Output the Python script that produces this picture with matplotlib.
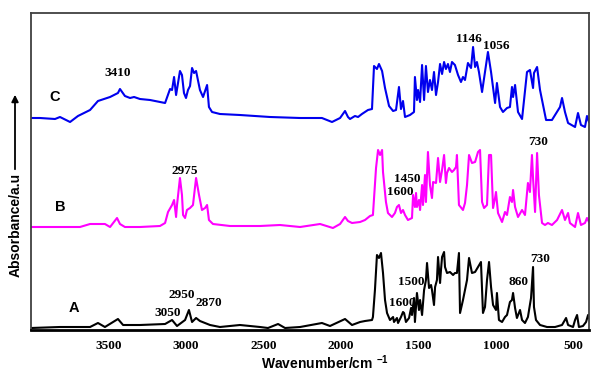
import numpy as np
import matplotlib
matplotlib.use("Agg")
import matplotlib.pyplot as plt

plt.rcParams['mathtext.fontset'] = 'custom'
plt.rcParams['mathtext.rm'] = 'Liberation Sans'
plt.rcParams['mathtext.bf'] = 'Liberation Sans:bold'

# spectrum A (black)
wn_a = [4000, 3813, 3619, 3568, 3523, 3439, 3406, 3297, 3135, 3090, 3058, 3006, 2981, 2961,
        2935, 2910, 2845, 2781, 2652, 2587, 2523, 2471, 2406, 2361, 2264, 2123, 2071, 1974,
        1929, 1877, 1845, 1800, 1794, 1781, 1768, 1755, 1742, 1729, 1716, 1703, 1684, 1664,
        1658, 1639, 1632, 1613, 1600, 1593, 1581, 1561, 1548, 1542, 1529, 1523, 1510, 1497,
        1490, 1477, 1464, 1452, 1445, 1432, 1419, 1413, 1400, 1393, 1381, 1374, 1361, 1355,
        1348, 1335, 1329, 1316, 1297, 1277, 1265, 1252, 1239, 1232, 1213, 1187, 1174, 1155,
        1135, 1116, 1097, 1084, 1071, 1058, 1045, 1032, 1019, 1000, 994, 981, 961, 942, 929,
        910, 897, 890, 877, 865, 845, 832, 813, 794, 774, 761, 755, 742, 716, 671, 619, 574,
        548, 535, 503, 490, 477, 465, 439, 419, 406, 400]
abs_a = [0, 1, 1, 5, 1, 9, 3, 3, 4, 8, 2, 8, 18, 6,
         10, 7, 3, 1, 3, 2, 1, 0, 4, 0, 1, 5, 2, 9,
         3, 6, 7, 8, 11, 38, 73, 70, 75, 55, 28, 15, 8, 11,
         6, 10, 5, 11, 16, 15, 6, 10, 20, 13, 30, 6, 35, 18,
         28, 13, 38, 48, 65, 40, 43, 38, 23, 41, 48, 71, 45, 58,
         71, 76, 61, 55, 56, 53, 55, 55, 75, 15, 28, 48, 70, 55,
         56, 61, 66, 15, 21, 48, 66, 41, 23, 18, 35, 8, 6, 11, 13,
         26, 28, 35, 20, 10, 18, 8, 5, 11, 30, 61, 21, 8, 3, 1, 1, 3,
         10, 3, 1, 8, 13, 1, 2, 6, 13, 10]

# spectrum B (magenta)
wn_b = [4000, 3813, 3684, 3619, 3523, 3490, 3445, 3426, 3394, 3297, 3168, 3135, 3116, 3090,
        3077, 3064, 3058, 3039, 3026, 3019, 3006, 2994, 2974, 2955, 2935, 2916, 2897, 2877,
        2864, 2852, 2826, 2716, 2523, 2394, 2264, 2135, 2052, 2006, 1974, 1955, 1929, 1877,
        1845, 1813, 1794, 1774, 1761, 1748, 1735, 1729, 1710, 1697, 1671, 1652, 1639, 1626,
        1613, 1600, 1587, 1568, 1542, 1535, 1523, 1516, 1510, 1497, 1490, 1477, 1471, 1458,
        1452, 1439, 1426, 1413, 1406, 1387, 1374, 1361, 1348, 1335, 1323, 1316, 1303, 1284,
        1271, 1258, 1252, 1239, 1213, 1200, 1187, 1174, 1155, 1135, 1116, 1103, 1090, 1077,
        1058, 1045, 1032, 1019, 1006, 1000, 987, 961, 942, 929, 910, 897, 890, 877, 858, 832,
        813, 794, 781, 768, 761, 748, 735, 723, 703, 684, 665, 639, 606, 574, 555, 535, 523,
        490, 471, 452, 426, 413, 400]
abs_b = [0, 0, 0, 3, 3, 0, 9, 3, 0, 0, 1, 4, 15, 22,
         27, 10, 22, 49, 32, 12, 9, 17, 19, 22, 49, 32, 17, 19,
         22, 7, 3, 1, 1, 2, 0, 3, -1, 3, 10, 6, 4, 5,
         7, 11, 12, 59, 77, 72, 77, 55, 25, 14, 10, 14, 20, 22,
         14, 17, 12, 7, 9, 32, 20, 34, 20, 27, 17, 42, 22, 52,
         25, 75, 42, 29, 45, 44, 69, 45, 57, 72, 44, 54, 59, 55,
         57, 60, 72, 22, 17, 24, 42, 72, 64, 65, 75, 77, 25, 19,
         22, 72, 72, 19, 29, 35, 14, 5, 15, 12, 30, 25, 37, 20, 10, 17,
         12, 44, 35, 72, 49, 15, 74, 32, 4, 2, 4, 2, 7, 17, 7, 14, 4,
         0, 14, 2, 4, 9, 5]

# spectrum C (blue)
wn_c = [4000, 3942, 3845, 3813, 3748, 3697, 3619, 3568, 3490, 3439, 3426, 3394, 3361, 3335,
        3297, 3232, 3135, 3103, 3090, 3077, 3064, 3039, 3026, 3013, 3000, 2987, 2974, 2961,
        2948, 2935, 2910, 2890, 2864, 2852, 2832, 2781, 2652, 2458, 2264, 2123, 2058, 2006,
        1974, 1955, 1942, 1910, 1890, 1865, 1826, 1800, 1787, 1768, 1755, 1735, 1716, 1690,
        1664, 1645, 1626, 1613, 1600, 1587, 1555, 1529, 1523, 1510, 1503, 1490, 1477, 1464,
        1452, 1439, 1426, 1413, 1400, 1387, 1374, 1361, 1348, 1335, 1323, 1310, 1297, 1284,
        1265, 1245, 1226, 1213, 1200, 1181, 1161, 1148, 1135, 1123, 1110, 1090, 1071, 1062,
        1052, 1032, 1006, 994, 974, 955, 929, 910, 897, 890, 877, 858, 832, 800, 781, 761,
        755, 735, 716, 677, 639, 587, 574, 555, 535, 490, 471, 452, 426, 413, 400]
abs_c = [0, 0, -1, 1, -4, 2, 8, 17, 21, 25, 29, 22, 20, 21,
         19, 18, 15, 29, 28, 41, 23, 47, 43, 25, 20, 28, 32, 50,
         45, 47, 28, 21, 33, 11, 6, 4, 3, 1, 0, 0, -4, 0,
         7, 1, -1, 2, 1, 4, 8, 9, 52, 49, 54, 47, 30, 12,
         7, 8, 31, 9, 17, 1, 3, 6, 41, 18, 28, 16, 53, 18,
         52, 26, 38, 28, 46, 23, 36, 54, 44, 56, 49, 54, 46, 56,
         53, 43, 36, 41, 38, 55, 50, 71, 51, 56, 46, 26, 46, 55,
         66, 46, 15, 35, 11, 6, 10, 11, 31, 21, 33, 6, -1, 46, 48, 30,
         45, 51, 28, -2, -2, 11, 20, 6, -5, -9, 5, -7, -9, 2, -4]

offsets = {'A': 2, 'B': 103, 'C': 212}

peak_labels = ['3410', '2975', '1146', '1056', '730', '1450', '1600',
               '2950', '3050', '2870', '1500', '1600', '860', '730']
peak_pos = [(3439, 257), (3010, 159), (1174, 291), (1000, 284), (729, 188), (1574, 151),
            (1619, 138), (3026, 35), (3116, 17), (2852, 27), (1548, 48), (1606, 27),
            (858, 48), (716, 71)]

fig = plt.figure(figsize=(6.01, 3.71), dpi=100)
ax = fig.add_axes([31 / 601, 41 / 371, 558 / 601, 317 / 371])

ax.plot(wn_a, np.array(abs_a) + offsets['A'], color='black', lw=1.5)
ax.plot(wn_b, np.array(abs_b) + offsets['B'], color='#ff00ff', lw=1.5)
ax.plot(wn_c, np.array(abs_c) + offsets['C'], color='#0000ee', lw=1.5)

for txt, (x, y) in zip(peak_labels, peak_pos):
    ax.text(x, y, txt, ha='center', va='center', fontsize=9.5, fontweight='bold',
            family='Liberation Serif')

for name, (x, y) in zip(['C', 'B', 'A'], [(3845, 233), (3813, 123), (3723, 22)]):
    ax.text(x, y, name, ha='center', va='center', fontsize=10.5, fontweight='bold',
            family='Liberation Sans')

ax.set_xlim(4000, 400)
ax.set_ylim(0, 317)
ax.set_xticks([3500, 3000, 2500, 2000, 1500, 1000, 500])
ax.set_yticks([])
ax.tick_params(axis='x', length=0, pad=7)
for lbl in ax.get_xticklabels():
    lbl.set_fontfamily('Liberation Serif')
    lbl.set_fontweight('bold')
    lbl.set_fontsize(9.5)

for side in ['left', 'top', 'right']:
    ax.spines[side].set_color('#404040')
    ax.spines[side].set_linewidth(1.3)
ax.spines['bottom'].set_color('black')
ax.spines['bottom'].set_linewidth(2)

fig.text(325 / 601, 1 - 363 / 371, r'Wavenumber/cm $^{\mathbf{-1}}$', ha='center', va='center',
         fontsize=10, fontweight='bold', family='Liberation Sans')
fig.text(16 / 601, 1 - 225 / 371, 'Absorbance/a.u', rotation=90, ha='center', va='center',
         fontsize=10, fontweight='bold', family='Liberation Sans')
fig.add_artist(matplotlib.patches.FancyArrowPatch(
    (15 / 601, 1 - 172 / 371), (15 / 601, 1 - 92 / 371), transform=fig.transFigure,
    arrowstyle='-|>', mutation_scale=10, color='black', lw=1.3))

fig.savefig('out.png', dpi=100)
